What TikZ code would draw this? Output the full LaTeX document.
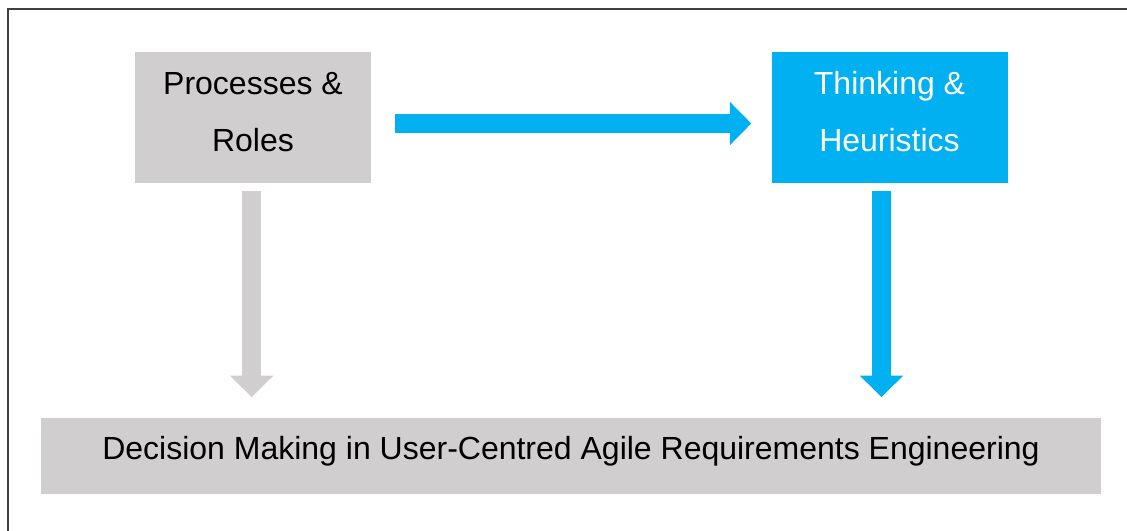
\documentclass[tikz,border=0pt]{standalone}
\usepackage{fontspec}
\setmainfont{Liberation Sans}
\usetikzlibrary{arrows.meta}
\definecolor{boxgray}{HTML}{D0CECE}
\definecolor{boxblue}{HTML}{00B0F0}
\tikzset{
  greybox/.style={fill=boxgray, minimum width=177pt, minimum height=98.25pt, align=center,
    font=\fontsize{24}{42.75}\selectfont, text depth=8.5pt},
  bluebox/.style={greybox, fill=boxblue, text=white},
  blockarrow/.style={line width=14.5pt, -{Triangle[width=31.5pt, length=16pt]}}
}
\begin{document}
\begin{tikzpicture}[x=0.75pt, y=-0.75pt]
\useasboundingbox (0,0) rectangle (1127,531);
\clip (0,0) rectangle (1127,531);
\draw[line width=1.2pt, black!75] (8,9) rectangle (1160,560);

\node[greybox] (proc) at (253,117.5) {Processes \&\\Roles};
\node[bluebox] (think) at (889.5,117.5) {Thinking \&\\Heuristics};
\node[greybox, minimum width=795pt, minimum height=57pt, text depth=11.5pt] (dec) at (571,456)
  {Decision Making in User-Centred Agile Requirements Engineering};

\draw[blockarrow, boxblue] ([xshift=18pt, yshift=-4.5pt]proc.east) -- ([xshift=-15pt, yshift=-4.5pt]think.west);
\draw[blockarrow, boxgray] ([xshift=-1pt, yshift=-6pt]proc.south) -- ([xshift=-1pt, yshift=15.5pt]proc.south |- dec.north);
\draw[blockarrow, boxblue] ([xshift=-6pt, yshift=-6pt]think.south) -- ([xshift=-6pt, yshift=15.5pt]think.south |- dec.north);
\end{tikzpicture}
\end{document}
